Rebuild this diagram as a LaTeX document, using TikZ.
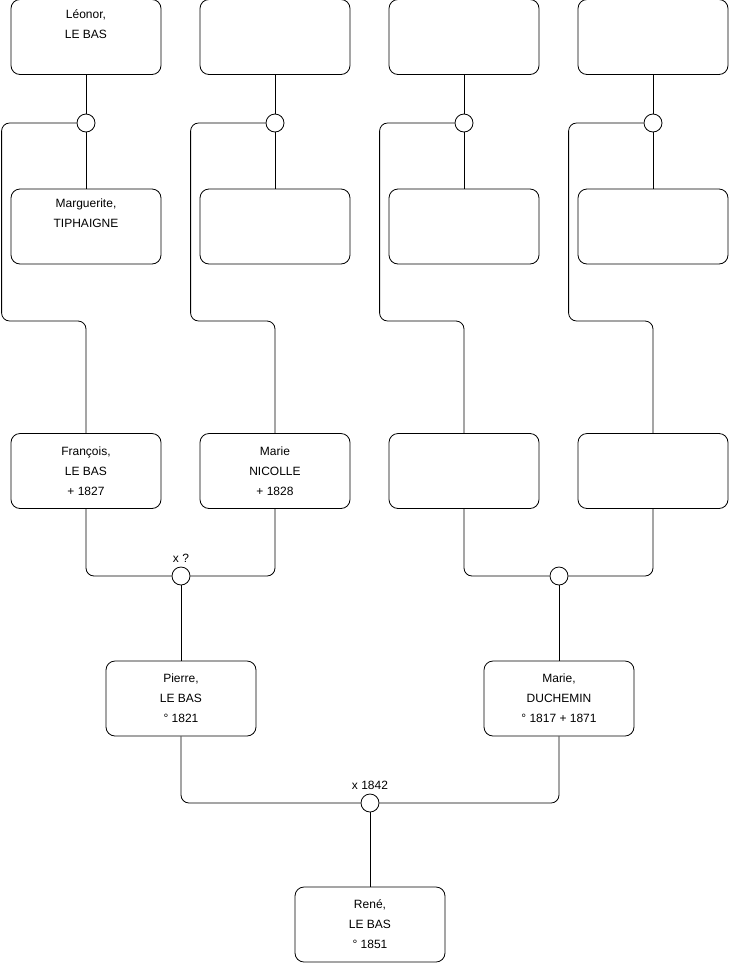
\documentclass[tikz,border=0pt]{standalone}
\usepackage{fontspec}
\setmainfont{Liberation Sans}
\begin{document}
\begin{tikzpicture}[x=1pt,y=-1pt,
  person/.style={draw=black,line width=0.8pt,rounded corners=9pt,minimum width=150pt,minimum height=75pt,inner sep=0pt,align=center,font=\fontsize{12}{20}\selectfont,fill=white},
  union/.style={draw=black,line width=0.8pt,circle,minimum size=18pt,inner sep=0pt,fill=white},
  link/.style={draw=black,line width=0.8pt,rounded corners=8pt},
  lbl/.style={font=\fontsize{12}{14}\selectfont,inner sep=1pt,anchor=south}]
\useasboundingbox (0,0) rectangle (740,975);
% row 1
\node[person] (a1) at (86,37) {Léonor,\\LE BAS\\\strut};
\node[person] (a2) at (275,37) {\strut\\\strut\\\strut};
\node[person] (a3) at (464,37) {\strut\\\strut\\\strut};
\node[person] (a4) at (653,37) {\strut\\\strut\\\strut};
% row 2
\node[person] (b1) at (86,226.5) {Marguerite,\\TIPHAIGNE\\\strut};
\node[person] (b2) at (275,226.5) {\strut\\\strut\\\strut};
\node[person] (b3) at (464,226.5) {\strut\\\strut\\\strut};
\node[person] (b4) at (653,226.5) {\strut\\\strut\\\strut};
% row 3
\node[person] (c1) at (86,471) {François,\\LE BAS\\+ 1827};
\node[person] (c2) at (275,471) {Marie\\NICOLLE\\+ 1828};
\node[person] (c3) at (464,471) {\strut\\\strut\\\strut};
\node[person] (c4) at (653,471) {\strut\\\strut\\\strut};
% row 4
\node[person] (d1) at (181,698.5) {Pierre,\\LE BAS\\° 1821};
\node[person] (d2) at (559,698.5) {Marie,\\DUCHEMIN\\° 1817 + 1871};
% row 5
\node[person] (e1) at (370,924.5) {René,\\LE BAS\\° 1851};
% unions
\node[union] (u1) at (86,123) {};
\node[union] (u2) at (275,123) {};
\node[union] (u3) at (464,123) {};
\node[union] (u4) at (653,123) {};
\node[union] (v1) at (181,576) {};
\node[union] (v2) at (559,576) {};
\node[union] (w1) at (370,803) {};
\node[lbl] (lv1) at ([yshift=3pt]v1.north) {x ?};
\node[lbl] (lw1) at ([yshift=3pt]w1.north) {x 1842};
% links top
\foreach \i in {1,2,3,4}{
  \draw[link] (a\i.south) -- (u\i.north);
  \draw[link] (u\i.south) -- (b\i.north);
  \draw[link] (u\i.west) -- ++(-75,0) -- ++(0,198) -| (c\i.north);
}
\draw[link] (c1.south) |- (v1.west);
\draw[link] (c2.south) |- (v1.east);
\draw[link] (c3.south) |- (v2.west);
\draw[link] (c4.south) |- (v2.east);
\draw[link] (v1.south) -- (d1.north);
\draw[link] (v2.south) -- (d2.north);
\draw[link] (d1.south) |- (w1.west);
\draw[link] (d2.south) |- (w1.east);
\draw[link] (w1.south) -- (e1.north);
\end{tikzpicture}
\end{document}
